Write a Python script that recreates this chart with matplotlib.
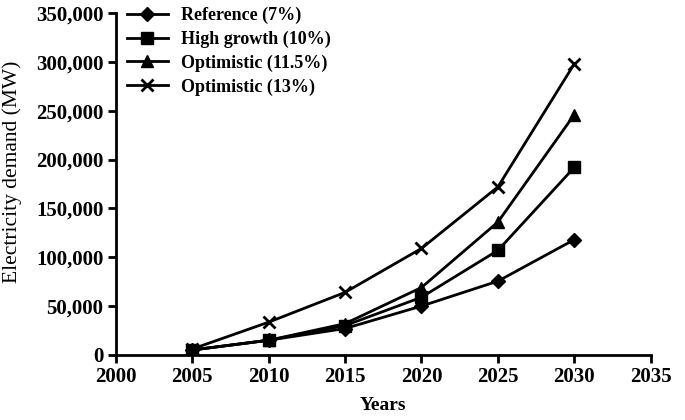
import matplotlib.pyplot as plt
from matplotlib.ticker import FuncFormatter

years = [2005, 2010, 2015, 2020, 2025, 2030]
reference = [5000, 15000, 27000, 50000, 75500, 118000]
high_growth = [5000, 15000, 30000, 59000, 107000, 192000]
optimistic_115 = [5000, 15000, 32000, 69000, 136000, 246000]
optimistic_13 = [6000, 33500, 64000, 109000, 172000, 298000]

labels = ['Reference (7%)', 'High growth (10%)', 'Optimistic (11.5%)', 'Optimistic (13%)']

plt.rcParams['font.family'] = ['Liberation Serif', 'DejaVu Serif']

fig = plt.figure(figsize=(6.85, 4.2), dpi=100)
ax = fig.add_axes([0.169, 0.155, 0.781, 0.814])

ax.plot(years, reference, 'k-', marker='D', ms=7, lw=2, label=labels[0])
ax.plot(years, high_growth, 'k-', marker='s', ms=8, lw=2, label=labels[1])
ax.plot(years, optimistic_115, 'k-', marker='^', ms=9, lw=2, label=labels[2])
ax.plot(years, optimistic_13, 'k-', marker='x', ms=9, mew=2, lw=2, label=labels[3])

ax.set_xlim(2000, 2035)
ax.set_ylim(0, 350000)
ax.set_xticks(range(2000, 2036, 5))
ax.set_yticks(range(0, 350001, 50000))
ax.yaxis.set_major_formatter(FuncFormatter(lambda v, p: f'{int(v):,}'))

for s in ['top', 'right']:
    ax.spines[s].set_visible(False)
for s in ['left', 'bottom']:
    ax.spines[s].set_linewidth(2)
ax.tick_params(direction='out', width=2, length=6, labelsize=15, pad=3)
for t in ax.get_xticklabels() + ax.get_yticklabels():
    t.set_fontweight('bold')

ax.set_xlabel('Years', fontsize=14, fontweight='bold', labelpad=7)
ax.set_ylabel('Electricity demand (MW)', fontsize=15.5)
ax.yaxis.set_label_coords(-0.175, 0.535)

leg = ax.legend(loc='upper left', frameon=False, prop={'size': 13, 'weight': 'bold'},
                handlelength=2.3, handletextpad=0.7, borderaxespad=0.2,
                labelspacing=0.36, bbox_to_anchor=(0.0, 1.05))

fig.savefig('out.png', dpi=100)
